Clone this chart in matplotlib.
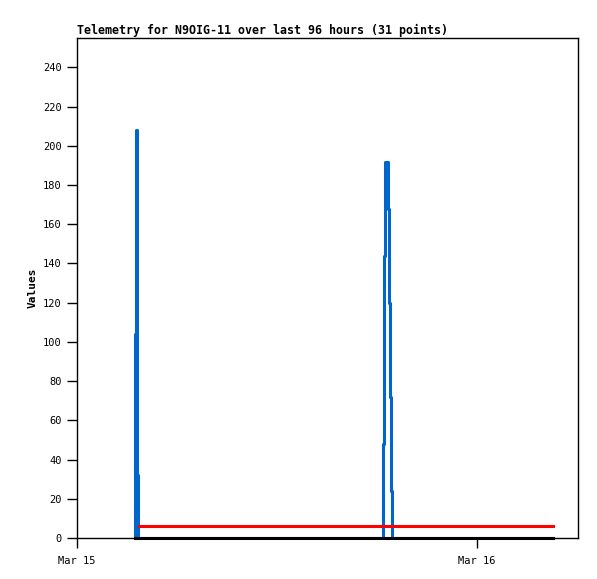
import datetime as dt
import matplotlib
matplotlib.use("Agg")
import matplotlib.pyplot as plt
import matplotlib.dates as mdates

# Data (hours after Mar 15 00:00)
start = dt.datetime(2024, 3, 15)
blue_hours = [3.50, 3.50, 3.56, 3.63, 3.68, 18.34, 18.40, 18.48, 18.66, 18.74, 18.80, 18.86, 18.90, 28.56]
blue_values = [0, 104, 208, 32, 0, 48, 144, 192, 168, 120, 72, 24, 0, 0]
red_hours = [3.70, 28.56]
red_values = [6, 6]
black_hours = [3.48, 28.56]
black_values = [0, 0]

title = "Telemetry for N9OIG-11 over last 96 hours (31 points)"
ylabel = "Values"


def to_times(hours):
    return [start + dt.timedelta(hours=h) for h in hours]


plt.rcParams['font.family'] = ['DejaVu Sans Mono']

fig = plt.figure(figsize=(5.97, 5.79), dpi=100)
ax = fig.add_axes([77 / 597, 41 / 579, 501 / 597, 500 / 579])

ax.plot(to_times(blue_hours), blue_values, drawstyle='steps-post', color='#0066cc', lw=2.2)
ax.plot(to_times(red_hours), red_values, color='#ff0000', lw=2.2)
ax.plot(to_times(black_hours), black_values, color='black', lw=2.2, clip_on=False)

ax.set_xlim(start, start + dt.timedelta(hours=30.06))
ax.set_ylim(0, 255)
ax.set_yticks(range(0, 241, 20))

ax.xaxis.set_major_locator(mdates.DayLocator())
ax.xaxis.set_major_formatter(mdates.DateFormatter('%b %d'))

ax.tick_params(axis='both', direction='out', length=7, width=1, labelsize=7.5, pad=4)
ax.tick_params(axis='x', pad=6)
for s in ax.spines.values():
    s.set_linewidth(1)

ax.set_ylabel(ylabel, fontsize=8, fontweight='bold', labelpad=4)
ax.set_title(title, loc='left', fontsize=8.4, fontweight='bold', pad=3)

fig.savefig("out.png", dpi=100)
